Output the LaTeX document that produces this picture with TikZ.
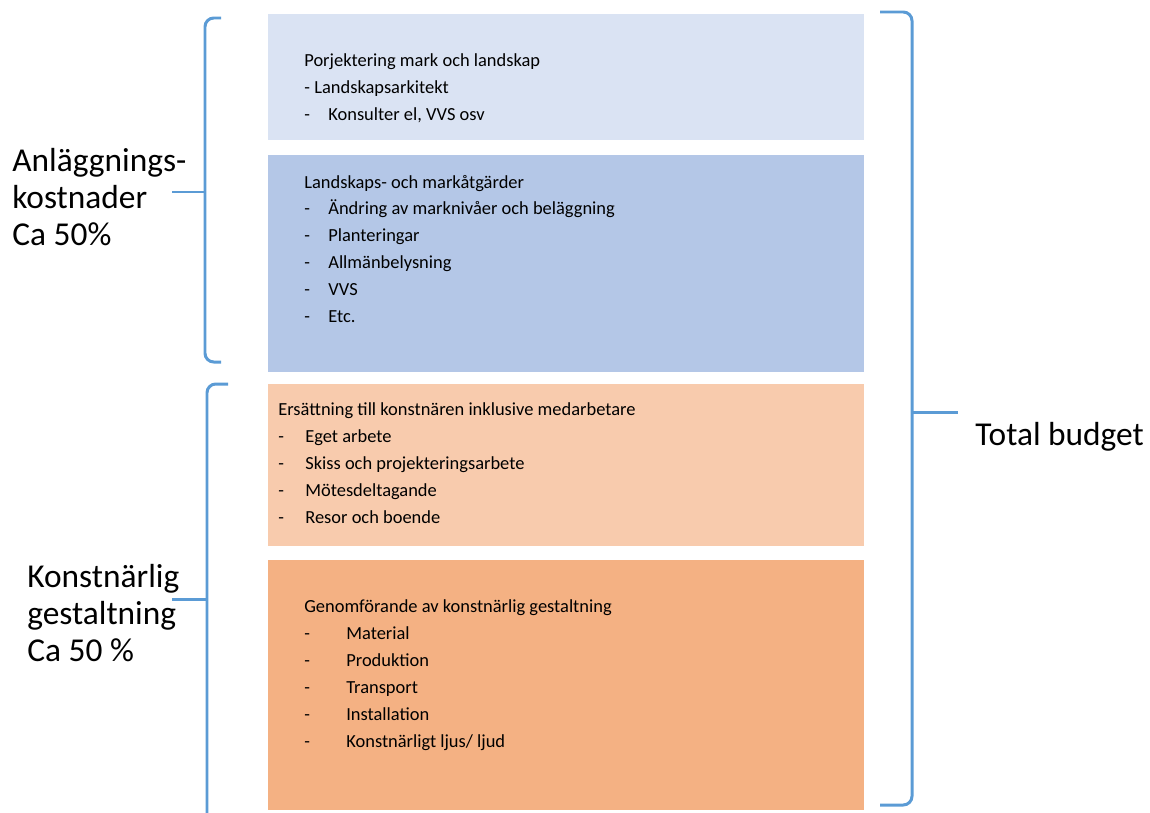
\documentclass[tikz,border=0pt]{standalone}
\usepackage{fontspec}
\setmainfont{Carlito}
\usetikzlibrary{positioning}
\definecolor{bracecol}{HTML}{5B9BD5}
\definecolor{projcol}{HTML}{DAE3F3}
\definecolor{markcol}{HTML}{B4C7E7}
\definecolor{ersatcol}{HTML}{F8CBAD}
\definecolor{genomcol}{HTML}{F4B183}
\newcommand{\dashitem}[2]{\makebox[#1][l]{-}#2}

\begin{document}
\begin{tikzpicture}[x=0.02cm,y=-0.02cm,
		box/.style={fill=#1, minimum width=11.92cm, inner sep=0pt},
		boxtext/.style={anchor=west, align=left, inner sep=0pt, font=\fontsize{10.5}{15.36}\selectfont},
		sidetext/.style={anchor=west, align=left, inner sep=0pt, font=\fontsize{19}{21}\selectfont},
		bracket/.style={draw=bracecol, line width=1.7pt, rounded corners=5pt}]
		\useasboundingbox (0,0) rectangle (1150,812);
		
		% blocks
		\node [box=projcol, minimum height=2.52cm] (proj) at (566,77) {};
		\node [box=markcol, minimum height=4.34cm, below=0.28cm of proj] (mark) {};
		\node [box=ersatcol, minimum height=3.24cm, below=0.24cm of mark] (ersat) {};
		\node [box=genomcol, minimum height=5cm, below=0.26cm of ersat] (genom) {};
		
		\node [boxtext] (projtxt) at (304,88.5) {Porjektering mark och landskap\\
			\dashitem{0.2cm}{Landskapsarkitekt}\\
			\dashitem{0.48cm}{Konsulter el, VVS osv}};
		\node [boxtext] (marktxt) at (304,249) {Landskaps- och markåtgärder\\
			\dashitem{0.48cm}{Ändring av marknivåer och beläggning}\\
			\dashitem{0.48cm}{Planteringar}\\
			\dashitem{0.48cm}{Allmänbelysning}\\
			\dashitem{0.48cm}{VVS}\\
			\dashitem{0.48cm}{Etc.}};
		\node [boxtext] (ersattxt) at (278,463.5) {Ersättning till konstnären inklusive medarbetare\\
			\dashitem{0.54cm}{Eget arbete}\\
			\dashitem{0.54cm}{Skiss och projekteringsarbete}\\
			\dashitem{0.54cm}{Mötesdeltagande}\\
			\dashitem{0.54cm}{Resor och boende}};
		\node [boxtext] (genomtxt) at (304,675.5) {Genomförande av konstnärlig gestaltning\\
			\dashitem{0.84cm}{Material}\\
			\dashitem{0.84cm}{Produktion}\\
			\dashitem{0.84cm}{Transport}\\
			\dashitem{0.84cm}{Installation}\\
			\dashitem{0.84cm}{Konstnärligt ljus/ ljud}};
		
		% labels
		\node [sidetext] (anl) at (12,197) {Anläggnings-\\kostnader\\Ca 50\%};
		\node [sidetext] (konst) at (27,613) {Konstnärlig\\gestaltning\\Ca 50 \%};
		\node [sidetext] (total) at (975,437) {Total budget};
		
		% brackets
		\coordinate (anltip) at (172,192);
		\coordinate (konsttip) at (172,599);
		\coordinate (totaltip) at (958,412);
		\draw [bracket] (221,18) -- (205,18) -- (205,362) -- (221,362);
		\draw [bracket] (anltip) -- (205,192);
		\draw [bracket] (228,384) -- (207,384) -- (207,830);
		\draw [bracket] (konsttip) -- (207,599);
		\draw [bracket] (880,12) -- (912,12) -- (912,805) -- (880,805);
		\draw [bracket] (912,412) -- (totaltip);
	\end{tikzpicture}
\end{document}
